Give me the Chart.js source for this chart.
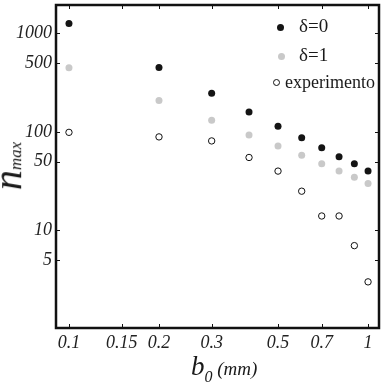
<!DOCTYPE html>
<html>
<head>
<meta charset="utf-8">
<title>n_max vs b0</title>
<script src="https://cdn.jsdelivr.net/npm/chart.js@4"></script>
<style>
  html, body { margin: 0; padding: 0; background: #fff; }
  #wrap { position: relative; width: 384px; height: 385px; overflow: hidden; }
  .serif { font-family: "Liberation Serif", "DejaVu Serif", serif; color: #1a1a1a; position: absolute; white-space: nowrap; }
  .it { font-style: italic; }
  .mk { position: absolute; border-radius: 50%; box-sizing: border-box; }
</style>
</head>
<body>
<div id="wrap">
  <canvas id="c" width="384" height="385"></canvas>

  <!-- axis titles -->
  <div class="serif it" id="ytitle" style="left:-12px; top:142px; font-size:40px; line-height:40px; transform:rotate(-90deg); transform-origin:50% 50%;">n<span style="font-size:17px;">max</span></div>
  <div class="serif it" id="xtitle" style="left:191px; top:353px; font-size:27px; line-height:26px;">b<span style="font-size:16px; position:relative; top:7px;">0</span><span style="font-size:19px;"> (mm)</span></div>

  <!-- legend -->
  <div class="mk" style="left:277px; top:24px; width:7px; height:7px; background:#141414;"></div>
  <div class="serif" style="left:299px; top:14px; font-size:19px; line-height:24px;">δ=0</div>
  <div class="mk" style="left:278px; top:53px; width:7px; height:7px; background:#c9c9c9;"></div>
  <div class="serif" style="left:299px; top:43px; font-size:19px; line-height:24px;">δ=1</div>
  <div class="mk" style="left:273px; top:79px; width:7px; height:7px; background:#fff; border:1px solid #111;"></div>
  <div class="serif" style="left:285px; top:70px; font-size:18px; line-height:24px;">experimento</div>
</div>

<script>
// b0 in mm, n_max
const B0 = [0.1, 0.2, 0.3, 0.4, 0.5, 0.6, 0.7, 0.8, 0.9, 1.0];
const N_DELTA0 = [1260, 452, 247, 159, 114, 87, 69, 56, 47.5, 40];
const N_DELTA1 = [448, 208, 131, 93, 72, 58, 47.5, 40, 34.7, 30];
const N_EXP = [99, 89, 81, 55, 40, 25, 14, 14, 7, 3];

const X_TICKS = [0.1, 0.15, 0.2, 0.3, 0.5, 0.7, 1];
const X_TICK_LABELS = ['0.1', '0.15', '0.2', '0.3', '0.5', '0.7', '1'];
const Y_TICKS = [5, 10, 50, 100, 500, 1000];
const Y_TICK_LABELS = ['5', '10', '50', '100', '500', '1000'];

const pts = ys => B0.map((x, i) => ({ x: x, y: ys[i] }));
const tickFont = { family: 'Liberation Serif', style: 'italic', size: 18 };

// frame + small inward ticks on all four sides
const framePlugin = {
  id: 'frame',
  afterDraw(chart) {
    const { ctx, chartArea: a, scales } = chart;
    ctx.save();
    ctx.strokeStyle = '#111';
    ctx.lineWidth = 1;
    X_TICKS.forEach(v => {
      const px = Math.round(scales.x.getPixelForValue(v)) + 0.5;
      ctx.beginPath();
      ctx.moveTo(px, a.bottom); ctx.lineTo(px, a.bottom - 4);
      ctx.moveTo(px, a.top); ctx.lineTo(px, a.top + 4);
      ctx.stroke();
    });
    Y_TICKS.forEach(v => {
      const py = Math.round(scales.y.getPixelForValue(v)) + 0.5;
      ctx.beginPath();
      ctx.moveTo(a.left, py); ctx.lineTo(a.left + 4, py);
      ctx.moveTo(a.right, py); ctx.lineTo(a.right - 4, py);
      ctx.stroke();
    });
    ctx.lineWidth = 2.5;
    ctx.strokeRect(a.left, a.top, a.right - a.left, a.bottom - a.top);
    ctx.restore();
  }
};

new Chart(document.getElementById('c'), {
  type: 'scatter',
  data: {
    datasets: [
      { label: 'δ=0', data: pts(N_DELTA0), pointRadius: 3.5, pointBackgroundColor: '#141414', pointBorderWidth: 0 },
      { label: 'δ=1', data: pts(N_DELTA1), pointRadius: 3.5, pointBackgroundColor: '#c9c9c9', pointBorderWidth: 0 },
      { label: 'experimento', data: pts(N_EXP), pointRadius: 3.2, pointBackgroundColor: '#fff', pointBorderColor: '#111', pointBorderWidth: 1 }
    ]
  },
  options: {
    responsive: false,
    animation: false,
    layout: { padding: { top: 2, right: 2, left: 0, bottom: 0 } },
    plugins: { legend: { display: false }, tooltip: { enabled: false } },
    scales: {
      x: {
        type: 'logarithmic',
        min: 0.0905,
        max: 1.088,
        afterBuildTicks: s => { s.ticks = X_TICKS.map(v => ({ value: v })); },
        afterFit: s => { s.height = 57; s.paddingLeft = 0; s.paddingRight = 0; },
        grid: { display: false, drawTicks: false, tickLength: 0 },
        border: { display: false },
        ticks: { font: tickFont, color: '#222', padding: 4, maxRotation: 0, autoSkip: false,
                 callback: (v, i) => X_TICK_LABELS[i] }
      },
      y: {
        type: 'logarithmic',
        min: 1.02,
        max: 1945,
        afterBuildTicks: s => { s.ticks = Y_TICKS.map(v => ({ value: v })); },
        afterFit: s => { s.width = 56; s.paddingTop = 0; s.paddingBottom = 0; },
        grid: { display: false, drawTicks: false, tickLength: 0 },
        border: { display: false },
        ticks: { font: tickFont, color: '#222', padding: 4, autoSkip: false,
                 callback: (v, i) => Y_TICK_LABELS[i] }
      }
    }
  },
  plugins: [framePlugin]
});
</script>
</body>
</html>
